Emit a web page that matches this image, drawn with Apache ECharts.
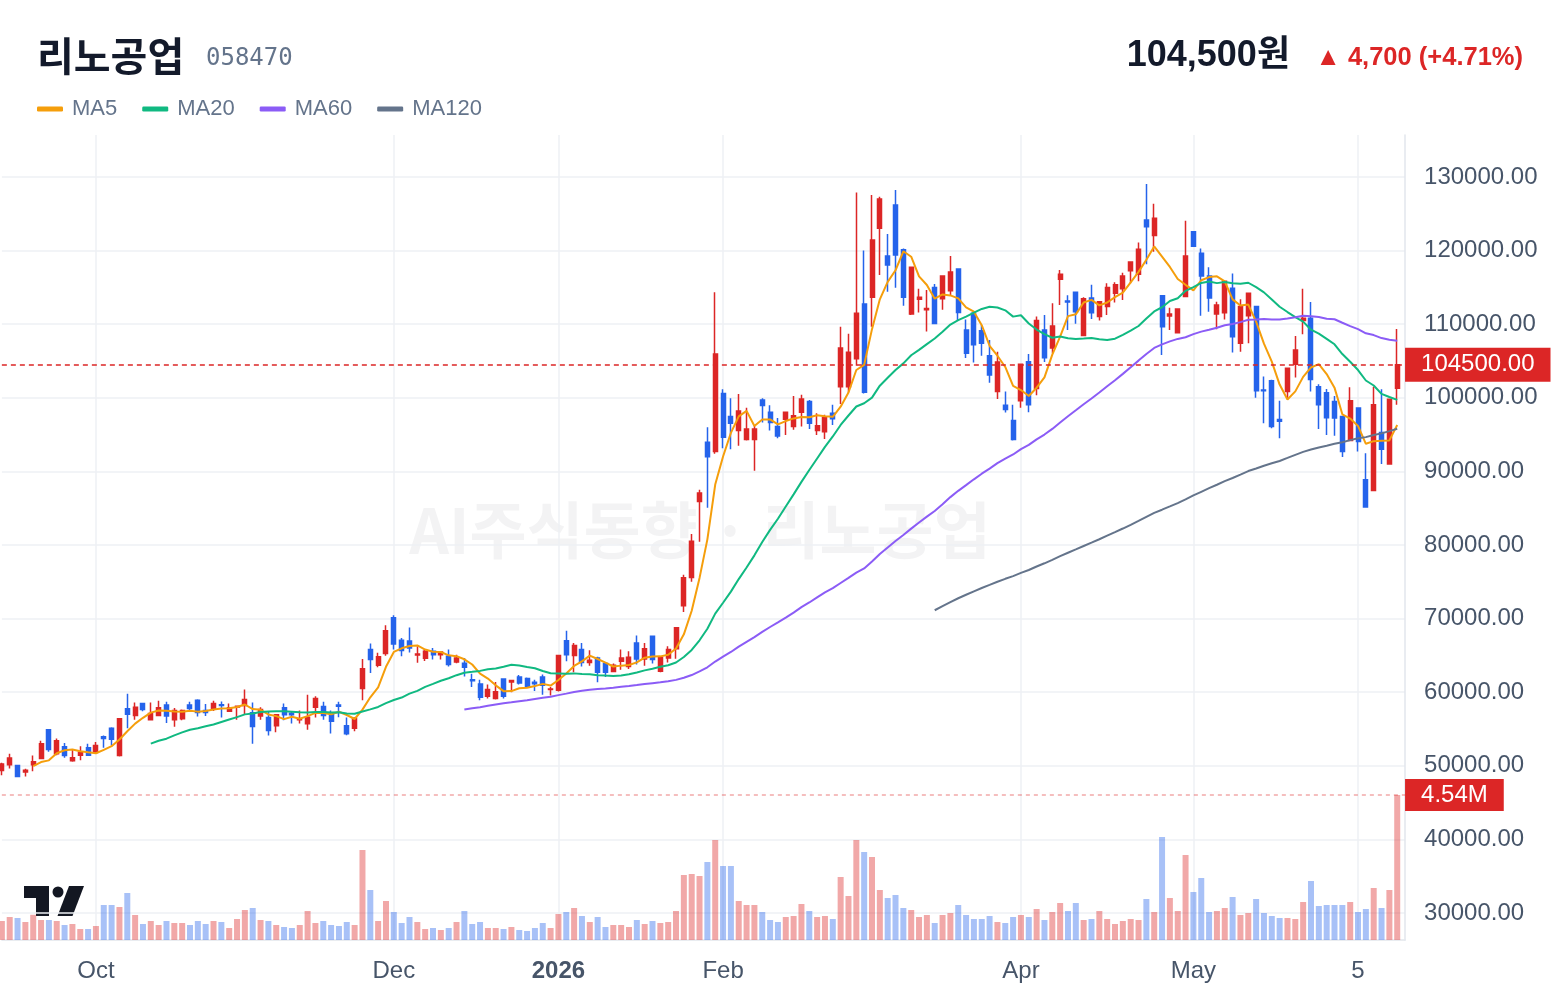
<!DOCTYPE html>
<html lang="ko">
<head>
<meta charset="utf-8">
<title>리노공업 058470</title>
<script src="https://cdn.jsdelivr.net/npm/echarts@6.0.0/dist/echarts.min.js"></script>
<style>
  html, body { margin: 0; padding: 0; background: #fff; }
  #chart { width: 1560px; height: 996px; }
</style>
</head>
<body>
<div id="chart"></div>
<script>
// 일봉 시세 (원)
const opens = [
  49350, 50150, 50050, 49150, 50150, 51000, 54900, 51650, 52600, 50700,
  51450, 52450, 51800, 53950, 55100, 51400, 57750, 56850, 58450, 56250,
  56850, 58250, 56250, 56400, 58250, 58900, 57500, 57750, 58300, 57400,
  58000, 58200, 57200, 56750, 56550, 55450, 57900, 57150, 56250, 55700,
  57950, 58050, 56950, 58250, 55450, 55100, 60500, 65800, 63650, 65250,
  70100, 67050, 66950, 65050, 64600, 65550, 65100, 64900, 64100, 63950,
  61700, 61100, 59450, 59150, 61800, 61400, 62050, 61850, 61350, 62050,
  60350, 60250, 67000, 65000, 65800, 64050, 64650, 63900, 62800, 64200,
  63500, 66700, 64500, 67600, 62850, 64650, 65900, 71750, 75600, 85900,
  93950, 92700, 100600, 97450, 95550, 94350, 94350, 99700, 98050, 96100,
  97100, 96100, 98050, 99500, 95550, 95400, 97900, 101500, 101500, 105300,
  112750, 113650, 123050, 119250, 126200, 120100, 111400, 113400, 111950, 115000,
  113450, 114550, 117500, 109200, 111500, 109100, 105700, 100850, 99000, 96900,
  99600, 104900, 101250, 109200, 106750, 116100, 113150, 114350, 108450, 113550,
  111050, 112400, 114200, 114800, 117250, 116800, 124150, 122050, 113850, 111100,
  108850, 113750, 122550, 119650, 116550, 111400, 111550, 114900, 107400, 111150,
  112400, 101050, 102300, 97050, 100850, 104550, 110500, 110800, 101500, 100700,
  99500, 97450, 94200, 98600, 88850, 87400, 95300, 91000, 101300
];
const highs = [
  50400, 51650, 50150, 49600, 51400, 53400, 54950, 53700, 53100, 52200,
  52650, 53000, 53250, 54100, 55250, 56450, 59800, 58600, 58550, 58600,
  58850, 58700, 57850, 57650, 58700, 59050, 58400, 58850, 58750, 58450,
  58200, 60350, 58600, 57950, 57400, 57000, 58450, 57350, 57500, 59650,
  59450, 58700, 57500, 58700, 56550, 56600, 64500, 66600, 65350, 69100,
  70450, 67350, 68800, 66250, 65800, 66000, 65600, 65800, 65100, 64650,
  62500, 61700, 61050, 61400, 61850, 61700, 62350, 62000, 61700, 62400,
  60700, 65050, 68350, 66700, 66700, 65700, 64800, 64050, 63900, 65800,
  65550, 67700, 66700, 67700, 64900, 66250, 68850, 75950, 81500, 87500,
  96000, 114350, 101150, 99950, 100500, 98650, 96300, 99950, 99000, 97250,
  98100, 100250, 100400, 99700, 97900, 97700, 99050, 109650, 108700, 127900,
  120000, 127550, 127300, 122250, 128250, 120300, 117800, 114800, 114650, 115450,
  116600, 119250, 117550, 110650, 111700, 109900, 107850, 106250, 100850, 99050,
  104600, 105950, 111050, 111250, 112850, 117350, 113950, 114400, 113650, 115350,
  113100, 115550, 115700, 117000, 118500, 121100, 129050, 126350, 113900, 112250,
  112150, 124050, 122650, 120300, 117750, 113050, 115900, 116900, 113400, 114250,
  112450, 102900, 102450, 99600, 104050, 108400, 114800, 113000, 101850, 101200,
  100250, 97500, 101450, 98650, 92450, 101500, 101150, 99850, 109350
];
const lows = [
  48700, 49650, 48450, 48550, 49250, 50950, 51900, 51450, 51100, 50550,
  50750, 51400, 51650, 52450, 52800, 51250, 55100, 56250, 57400, 56200,
  56800, 55800, 55300, 56200, 57500, 56700, 56750, 57450, 56550, 57350,
  56250, 56950, 53000, 56250, 54100, 54550, 56200, 55750, 55750, 54900,
  56550, 56250, 54400, 56600, 54150, 54700, 58900, 62600, 63400, 64950,
  65800, 64900, 65400, 64000, 64250, 64450, 64450, 63500, 63950, 62150,
  60700, 58900, 59150, 59000, 59150, 60000, 61050, 60600, 60150, 59650,
  59550, 60100, 64200, 62700, 63500, 63600, 61350, 62050, 62700, 63050,
  63150, 63750, 63600, 63900, 62700, 64050, 64550, 70900, 75000, 80450,
  85050, 92400, 93150, 93000, 93500, 94200, 90100, 96650, 95550, 94500,
  94950, 95650, 96100, 95750, 94950, 94400, 96300, 99150, 100750, 104350,
  100600, 109650, 116700, 114400, 114950, 112500, 111250, 111600, 109000, 110000,
  111950, 113900, 110500, 105400, 104800, 105700, 102050, 99850, 98000, 94200,
  98650, 98050, 100350, 104850, 106050, 112600, 109200, 110050, 108400, 110700,
  110500, 111250, 112950, 113300, 115550, 115850, 118150, 119850, 105800, 109200,
  108800, 113700, 120500, 111150, 111700, 109300, 110650, 106150, 106250, 107400,
  100000, 96550, 95850, 94500, 99800, 102750, 108650, 100850, 95750, 94950,
  94850, 91950, 94150, 92700, 85100, 87350, 91000, 90950, 99050
];
const closes = [
  50250, 51050, 48550, 49400, 50550, 53000, 52200, 53400, 51400, 51100,
  51850, 51450, 52750, 53700, 53600, 56400, 57000, 57950, 57650, 57100,
  57900, 56750, 57500, 57500, 57800, 57250, 57250, 58450, 58200, 57900,
  58100, 59000, 55350, 57650, 54800, 56950, 56950, 56950, 56300, 56600,
  59150, 56850, 56050, 58100, 54350, 56450, 63200, 64450, 64800, 68350,
  66550, 65650, 66000, 65200, 65550, 65100, 65450, 63750, 64650, 63400,
  61550, 59300, 60350, 60050, 59450, 61600, 61250, 60700, 61150, 60950,
  60450, 65000, 65100, 66350, 64050, 64350, 62700, 62700, 63650, 64650,
  64750, 64500, 65900, 64450, 64750, 65800, 68750, 75550, 80500, 87050,
  92000, 105950, 94650, 96550, 98200, 95750, 95750, 98950, 96650, 94800,
  98050, 97550, 99850, 96550, 96200, 97300, 97150, 106750, 106200, 111500,
  100750, 121450, 127000, 118050, 119400, 113650, 117750, 113650, 112150, 110100,
  116550, 117100, 111600, 106050, 107200, 107400, 103100, 104850, 98400, 94350,
  104550, 99050, 110500, 105450, 109750, 116800, 113000, 111700, 113450, 111550,
  113050, 115000, 115350, 116550, 118450, 120200, 123250, 124400, 109650, 111400,
  112050, 119250, 120600, 116550, 113550, 112600, 115850, 108300, 112400, 114200,
  100950, 100950, 96100, 96800, 104000, 106500, 110800, 102500, 99050, 97300,
  97250, 92700, 99600, 94050, 85150, 99050, 93000, 99800, 104500
];
// 거래량 (천 주)
const volumes = [
  595, 720, 689, 564, 790, 626, 626, 595, 470, 501,
  344, 344, 438, 1096, 1096, 1033, 1472, 783, 501, 595,
  470, 595, 532, 532, 470, 595, 501, 595, 564, 376,
  658, 939, 1002, 626, 595, 470, 407, 376, 470, 908,
  532, 595, 470, 438, 564, 470, 2818, 1566, 595, 1221,
  877, 532, 720, 564, 344, 376, 313, 376, 564, 908,
  501, 564, 376, 376, 344, 407, 313, 282, 376, 532,
  376, 814, 877, 1002, 751, 564, 720, 407, 470, 470,
  407, 626, 501, 595, 532, 564, 908, 2035, 2066, 2004,
  2442, 3131, 2317, 2317, 1221, 1096, 1096, 877, 626, 564,
  720, 751, 1127, 908, 720, 751, 658, 1973, 1378, 3131,
  2755, 2599, 1566, 1315, 1409, 1002, 939, 720, 783, 532,
  783, 845, 1096, 783, 658, 658, 751, 564, 532, 720,
  783, 720, 971, 626, 877, 1158, 908, 1158, 626, 658,
  908, 658, 501, 595, 658, 626, 1284, 877, 3225, 1315,
  908, 2661, 1503, 1941, 877, 908, 1002, 1346, 783, 845,
  1284, 845, 751, 689, 689, 658, 1190, 1847, 1065, 1096,
  1096, 1096, 1190, 877, 971, 1628, 1002, 1566, 4540
];
const tickIndex = [12, 50, 71, 92, 130, 152, 173];
const tickText = ['Oct', 'Dec', '2026', 'Feb', 'Apr', 'May', '5'];
const maDays = [5, 20, 60, 120];
const maColors = ['#f59e0b', '#10b981', '#8b5cf6', '#64748b'];
const lastPrice = 104500;
const prevClose = 99800;

const UP = '#dc2626', DOWN = '#2563eb';
const FONT = '"Liberation Sans", Arial, "Noto Sans CJK KR", sans-serif';

// 마지막 봉 오른쪽에 빈 칸 하나
const categories = closes.map((_, i) => String(i)).concat(['']);

function calcMA(n) {
  return closes.map((_, i) => {
    if (i < n - 1) return null;
    let s = 0;
    for (let k = i - n + 1; k <= i; k++) s += closes[k];
    return +(s / n).toFixed(1);
  });
}

const candleData = closes.map((c, i) => [opens[i], c, lows[i], highs[i]]);
const volData = volumes.map((v, i) => ({
  value: v,
  itemStyle: { color: closes[i] >= opens[i] ? 'rgba(220,38,38,0.4)' : 'rgba(37,99,235,0.4)' }
}));

const gridLeft = 1.86, gridWidth = 1403.2;
const gridColor = '#eef1f5';

const chart = echarts.init(document.getElementById('chart'));

const diff = lastPrice - prevClose;
const pct = (diff / prevClose * 100).toFixed(2);

const option = {
  animation: false,
  backgroundColor: '#fff',
  textStyle: { fontFamily: FONT },
  legend: {
    left: 37, top: 98, padding: 0,
    itemWidth: 26, itemHeight: 5, itemGap: 25,
    icon: 'roundRect',
    textStyle: { fontSize: 22, color: '#64748b', padding: [0, 0, 0, 4] },
    data: maDays.map(d => 'MA' + d)
  },
  grid: [
    { left: gridLeft, width: gridWidth, top: 177, height: 736 },
    { left: gridLeft, width: gridWidth, top: 795, height: 145 },
    { left: gridLeft, width: gridWidth, top: 135, height: 805 }
  ],
  xAxis: [
    { type: 'category', gridIndex: 0, data: categories, boundaryGap: false, show: false },
    { type: 'category', gridIndex: 1, data: categories, boundaryGap: false, show: false },
    {
      type: 'category', gridIndex: 2, data: categories, boundaryGap: false,
      axisLine: { show: true, lineStyle: { color: '#e2e6ec', width: 1.5 } },
      axisTick: { show: false },
      axisLabel: {
        margin: 19, fontSize: 24, color: '#475569',
        interval: (i) => tickIndex.indexOf(i) >= 0,
        formatter: (v, i) => {
          const k = tickIndex.indexOf(i);
          if (k < 0) return '';
          return tickText[k] === '2026' ? '{b|2026}' : tickText[k];
        },
        rich: { b: { fontWeight: 'bold', fontSize: 24, color: '#475569' } }
      },
      splitLine: {
        show: true,
        interval: (i) => tickIndex.indexOf(i) >= 0,
        lineStyle: { color: gridColor, width: 1.5 }
      }
    }
  ],
  yAxis: [
    {
      type: 'value', gridIndex: 0, position: 'right',
      min: 30000, max: 130000, interval: 10000,
      axisLine: { show: false }, axisTick: { show: false },
      axisLabel: { margin: 19, fontSize: 24, color: '#475569', padding: [6, 0, 0, 0], formatter: v => v.toFixed(2) },
      splitLine: { lineStyle: { color: gridColor, width: 1.5 } }
    },
    {
      type: 'value', gridIndex: 1, min: 0, max: 4540, show: false
    },
    {
      type: 'value', gridIndex: 2, position: 'right', min: 0, max: 1,
      axisLine: { show: true, lineStyle: { color: '#e2e6ec', width: 1.5 } },
      axisTick: { show: false }, axisLabel: { show: false }, splitLine: { show: false }
    }
  ],
  series: [
    {
      name: '리노공업', type: 'candlestick', xAxisIndex: 0, yAxisIndex: 0,
      data: candleData, barWidth: 4.5, clip: false, z: 3,
      itemStyle: { color: UP, color0: DOWN, borderColor: UP, borderColor0: DOWN, borderWidth: 1.5 },
      markLine: {
        silent: true, symbol: 'none', animation: false,
        lineStyle: { color: UP, type: [5, 4], width: 1.5 },
        label: {
          position: 'end', distance: 0, color: '#fff', backgroundColor: UP,
          fontSize: 24, padding: [6, 16, 4, 16], lineHeight: 24,
          formatter: () => lastPrice.toFixed(2)
        },
        data: [{ yAxis: lastPrice }]
      }
    },
    {
      name: '거래량', type: 'bar', xAxisIndex: 1, yAxisIndex: 1,
      data: volData, barWidth: 6, clip: false, z: 1,
      markLine: {
        silent: true, symbol: 'none', animation: false,
        lineStyle: { color: 'rgba(220,38,38,0.4)', type: [4, 4], width: 1.5 },
        label: {
          position: 'end', distance: 0, color: '#fff', backgroundColor: UP,
          fontSize: 24, padding: [5, 16, 3, 16], lineHeight: 24,
          formatter: () => (volumes[volumes.length - 1] / 1000).toFixed(2) + 'M'
        },
        data: [{ yAxis: volumes[volumes.length - 1] }]
      }
    }
  ].concat(maDays.map((d, k) => ({
    name: 'MA' + d, type: 'line', xAxisIndex: 0, yAxisIndex: 0,
    data: calcMA(d), showSymbol: false, symbol: 'none', z: 4,
    lineStyle: { color: maColors[k], width: 2 },
    itemStyle: { color: maColors[k] }
  }))),
  graphic: [
    {
      type: 'text', x: 700, y: 530, z: 0,
      style: {
        text: 'AI주식동향 · 리노공업', fontSize: 62, fontWeight: 'bold',
        fontFamily: '"Noto Sans CJK KR", sans-serif',
        fill: 'rgba(15,23,42,0.05)', align: 'center', verticalAlign: 'middle'
      }
    },
    {
      type: 'text', x: 37, y: 56,
      style: {
        text: '리노공업', fontSize: 40, fontWeight: 'bold',
        fontFamily: '"Noto Sans CJK KR", sans-serif',
        fill: '#131a2b', verticalAlign: 'middle'
      }
    },
    {
      type: 'text', x: 206, y: 59,
      style: {
        text: '058470', fontSize: 24, fontFamily: '"DejaVu Sans Mono", monospace',
        fill: '#64748b', verticalAlign: 'middle'
      }
    },
    {
      type: 'text', x: 1290, y: 56,
      style: {
        text: lastPrice.toLocaleString('en-US') + '원', fontSize: 36, fontWeight: 'bold',
        fontFamily: FONT, fill: '#131a2b', align: 'right', verticalAlign: 'middle'
      }
    },
    {
      type: 'text', x: 1523, y: 58,
      style: {
        text: '▲ ' + diff.toLocaleString('en-US') + ' (+' + pct + '%)', fontSize: 25.5, fontWeight: 'bold',
        fontFamily: FONT, fill: UP, align: 'right', verticalAlign: 'middle'
      }
    },
    // TradingView 로고
    {
      type: 'group', z: 10,
      children: [
        { type: 'polygon', shape: { points: [[24, 886], [49, 886], [49, 916], [36, 916], [36, 898], [24, 898]] }, style: { fill: '#131722' } },
        { type: 'circle', shape: { cx: 58, cy: 892, r: 5.5 }, style: { fill: '#131722' } },
        { type: 'polygon', shape: { points: [[69, 886], [84, 886], [72.5, 916], [57.5, 916]] }, style: { fill: '#131722' } }
      ]
    }
  ]
};

chart.setOption(option);
</script>
</body>
</html>
